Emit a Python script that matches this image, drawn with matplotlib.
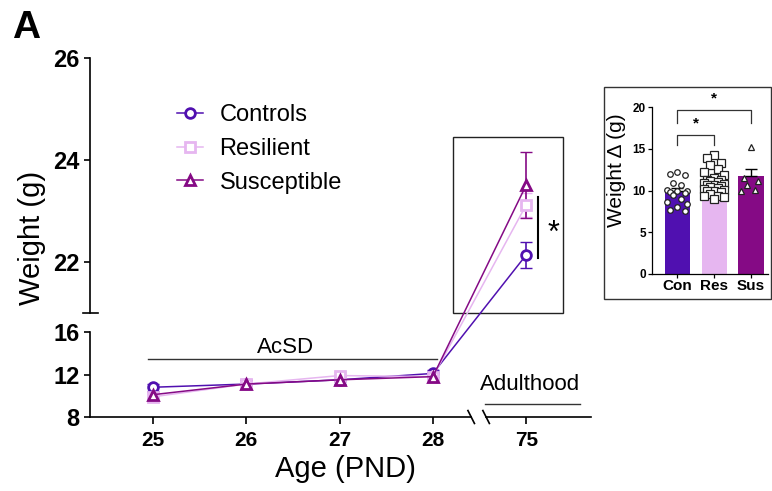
import numpy as np
import matplotlib
matplotlib.use("Agg")
import matplotlib.pyplot as plt
from matplotlib.patches import Rectangle

plt.rcParams['font.family'] = ['Liberation Sans', 'DejaVu Sans']

# ---- data ----
ages = ['25', '26', '27', '28', '75']
controls = [10.8, 11.1, 11.5, 12.1, 22.14]
controls_sem = [0.35, 0.4, 0.4, 0.3, 0.26]
resilient = [9.9, 11.1, 11.9, 11.8, 23.12]
resilient_sem = [0.3, 0.45, 0.35, 0.35, 0.24]
susceptible = [10.1, 11.1, 11.5, 11.8, 23.51]
susceptible_sem = [0.3, 0.4, 0.5, 0.4, 0.65]

groups = ['Con', 'Res', 'Sus']
delta_mean = [9.9, 10.9, 11.7]
delta_sem = [0.35, 0.25, 0.85]
con_pts = [12.2, 12.0, 11.8, 10.9, 10.7, 10.1, 10.0, 9.9, 9.8, 9.7, 9.5, 9.0, 8.6, 8.4, 8.0, 7.7, 7.6]
res_pts = [14.3, 13.9, 13.3, 13.0, 12.6, 12.2, 11.9, 11.5, 11.3, 11.2, 11.1, 11.0, 10.9, 10.8,
           10.7, 10.6, 10.5, 10.4, 10.3, 10.2, 10.1, 10.0, 9.9, 9.8, 9.6, 9.4, 9.3, 9.2, 9.0]
sus_pts = [15.2, 11.5, 11.1, 10.7, 10.1, 10.0]

c_con = '#5010b0'
c_res = '#e6b6f0'
c_sus = '#850a85'


# broken y axis: 8-16 below, 21-26 above
def fwd(y):
    y = np.asarray(y, dtype=float)
    return np.where(y <= 16, (y - 8) * 10.625,
                    np.where(y <= 21, 85 + (y - 16) * 3.8, 104 + (y - 21) * 51))


def inv(v):
    v = np.asarray(v, dtype=float)
    return np.where(v <= 85, 8 + v / 10.625,
                    np.where(v <= 104, 16 + (v - 85) / 3.8, 21 + (v - 104) / 51))


fig = plt.figure(figsize=(7.72, 4.91), dpi=100)
ax = fig.add_axes([90 / 772, 74 / 491, 501 / 772, 359 / 491])
ax.set_yscale('function', functions=(fwd, inv))
ax.set_ylim(8, 26)
ax.set_xlim(-0.675, 4.694)
x = np.arange(len(ages))

for vals, sem, col, mk, lab in [(controls, controls_sem, c_con, 'o', 'Controls'),
                                (resilient, resilient_sem, c_res, 's', 'Resilient'),
                                (susceptible, susceptible_sem, c_sus, '^', 'Susceptible')]:
    ax.errorbar(x, vals, yerr=sem, fmt='none', ecolor=col, elinewidth=1.2, capsize=4, zorder=2)
    ax.plot(x, vals, color=col, lw=1.1, marker=mk, ms=7, mfc='white', mec=col, mew=2,
            label=lab, zorder=3)

ax.set_yticks([8, 12, 16, 22, 24, 26])
ax.set_yticklabels(['8', '12', '16', '22', '24', '26'], fontsize=17, fontweight='bold')
ax.set_xticks(x)
ax.set_xticklabels(ages, fontsize=15, fontweight='bold')
ax.tick_params(axis='y', length=4.5, width=1.2, pad=3)
ax.tick_params(axis='x', length=5, width=1.2, pad=5)
ax.minorticks_off()
for s in ax.spines.values():
    s.set_visible(False)

# hand drawn spines with breaks
ytr = ax.get_yaxis_transform()
xtr = ax.get_xaxis_transform()
ax.plot([0, 0], [8, 16], transform=ytr, color='k', lw=1.2, clip_on=False)
ax.plot([0, 0], [21, 26], transform=ytr, color='k', lw=1.2, clip_on=False)
ax.plot([-0.014, 0.016], [21, 21], transform=ytr, color='k', lw=1.2, clip_on=False)
ax.plot([-0.675, 3.41], [0, 0], transform=xtr, color='k', lw=1.2, clip_on=False)
ax.plot([3.57, 4.694], [0, 0], transform=xtr, color='k', lw=1.2, clip_on=False)
for xb in [3.41, 3.57]:
    ax.plot([xb - 0.035, xb + 0.035], [0.018, -0.018], transform=xtr, color='k', lw=1.2,
            clip_on=False)

ax.set_ylabel('Weight (g)', fontsize=21)
ax.yaxis.set_label_coords(-0.087, 0.5)
ax.set_xlabel('Age (PND)', fontsize=21)
ax.xaxis.set_label_coords(0.509, -0.106)

# annotations
ax.plot([-0.054, 3.04], [13.46, 13.46], color='#333333', lw=1)
ax.text(1.415, 14.5, 'AcSD', fontsize=16, ha='center', va='center')
ax.plot([3.56, 4.58], [9.22, 9.22], color='#333333', lw=1, clip_on=False)
ax.text(4.04, 11.1, 'Adulthood', fontsize=16, ha='center', va='center')
ax.add_patch(Rectangle((3.215, 21), 1.179, 3.45, fill=False, ec='#222222', lw=1, zorder=1))
ax.plot([4.126, 4.126], [22.08, 23.27], color='k', lw=1.5)
ax.text(4.287, 22.55, '*', fontsize=22, ha='center', va='center')

ax.legend(loc='upper left', bbox_to_anchor=(177 / 772, (491 - 104) / 491),
          bbox_transform=fig.transFigure, frameon=False, fontsize=17, handlelength=1.1,
          handletextpad=0.7, labelspacing=0.5, borderaxespad=0, borderpad=0)

fig.text(12 / 772, (491 - 38) / 491, 'A', fontsize=28, fontweight='bold', va='baseline')

# ---- inset bar chart ----
fig.patches.append(Rectangle((604 / 772, (491 - 299) / 491), 167 / 772, 212 / 491, fill=False,
                             ec='#333333', lw=1, transform=fig.transFigure, figure=fig))
ax2 = fig.add_axes([652 / 772, 217 / 491, 116 / 772, 167 / 491])
xb = np.arange(len(groups))
ax2.bar(xb, delta_mean, width=0.68, color=[c_con, c_res, c_sus], zorder=1)
ax2.errorbar(xb, delta_mean, yerr=[[0, 0, 0], delta_sem], fmt='none', ecolor='k', elinewidth=1,
             capsize=4, zorder=2)

offs = [0, -0.2, 0.2, -0.1, 0.1, -0.28, 0.28]
for i, (pts, mk, ms) in enumerate([(con_pts, 'o', 4), (res_pts, 's', 5.5), (sus_pts, '^', 5)]):
    xs = [i + offs[j % len(offs)] for j in range(len(pts))]
    if mk == '^':
        xs[0] = i
    ax2.plot(xs, pts, ls='none', marker=mk, ms=ms, mfc='white', mec='#222222', mew=0.9, zorder=3)

ax2.set_ylim(0, 20)
ax2.set_xlim(-0.68, 2.46)
ax2.set_yticks([0, 5, 10, 15, 20])
ax2.set_yticklabels(['0', '5', '10', '15', '20'], fontsize=8.5, fontweight='bold')
ax2.set_xticks(xb)
ax2.set_xticklabels(groups, fontsize=11, fontweight='bold')
ax2.tick_params(length=3, width=0.9, pad=1.5)
ax2.tick_params(axis='x', pad=0.5)
for s in ['top', 'right']:
    ax2.spines[s].set_visible(False)
ax2.spines['left'].set_linewidth(0.9)
ax2.spines['bottom'].set_linewidth(0.9)
ax2.set_ylabel('Weight Δ (g)', fontsize=15)
ax2.yaxis.set_label_coords(-0.224, 0.62)

# significance brackets
for x0, x1, yb, yl in [(0, 1, 16.6, 15.4), (0, 2, 19.6, 18.1)]:
    ax2.plot([x0, x0, x1, x1], [yl, yb, yb, yl], color='#333333', lw=0.9, clip_on=False)
    ax2.text((x0 + x1) / 2, yb + 0.6, '*', fontsize=11, fontweight='bold', ha='center',
             va='bottom', clip_on=False)

fig.savefig('out.png', dpi=100)
